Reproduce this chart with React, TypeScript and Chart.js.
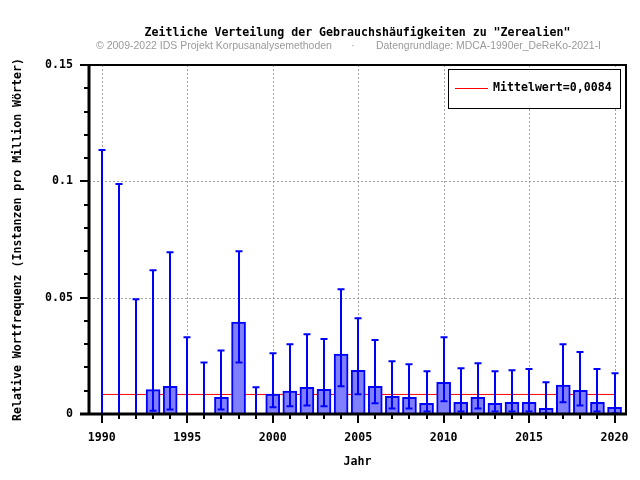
import React, { useEffect, useRef } from "react";
import { Chart, registerables } from "chart.js";

Chart.register(...registerables);

const years = [
  1990, 1991, 1992, 1993, 1994, 1995, 1996, 1997, 1998, 1999,
  2000, 2001, 2002, 2003, 2004, 2005, 2006, 2007, 2008, 2009,
  2010, 2011, 2012, 2013, 2014, 2015, 2016, 2017, 2018, 2019, 2020,
];
const relFreq: (number | null)[] = [
  null, null, null, 0.0105, 0.0119, null, null, 0.0072, 0.0395, null,
  0.0086, 0.0098, 0.0115, 0.0106, 0.0257, 0.0188, 0.0119, 0.0076, 0.0072, 0.0046,
  0.0136, 0.005, 0.0072, 0.0046, 0.005, 0.005, 0.0024, 0.0124, 0.0102, 0.005, 0.0029,
];
const errLower = [
  0, 0, 0, 0.0014, 0.0019, 0, 0, 0.0019, 0.0221, 0,
  0.0029, 0.0033, 0.0037, 0.0033, 0.0119, 0.0085, 0.0046, 0.0024, 0.0024, 0.0011,
  0.0055, 0.0011, 0.0024, 0.0011, 0.0011, 0.0011, 0.0003, 0.005, 0.0037, 0.0011, 0.0003,
];
const errUpper = [
  0.1135, 0.0989, 0.0493, 0.0618, 0.0695, 0.033, 0.0221, 0.0273, 0.07, 0.0115,
  0.0261, 0.03, 0.0343, 0.0322, 0.0536, 0.0412, 0.0318, 0.0227, 0.0214, 0.0184,
  0.033, 0.0197, 0.0218, 0.0184, 0.0188, 0.0193, 0.0136, 0.03, 0.0266, 0.0193, 0.0175,
];
const meanValue = 0.0084;
const meanRange = [1990, 2020];
const xMajorTicks = [1990, 1995, 2000, 2005, 2010, 2015, 2020];
const yMajorTicks = [0, 0.05, 0.1, 0.15];
const yMinorTicks = [
  0.01, 0.02, 0.03, 0.04, 0.06, 0.07, 0.08, 0.09, 0.11, 0.12, 0.13, 0.14,
];
const yTickLabels = ["0", "0.05", "0.1", "0.15"];

const TITLE = 'Zeitliche Verteilung der Gebrauchshäufigkeiten zu "Zerealien"';
const SUB_LEFT = "© 2009-2022 IDS Projekt Korpusanalysemethoden";
const SUB_DOT = "·";
const SUB_RIGHT = "Datengrundlage: MDCA-1990er_DeReKo-2021-I";
const LEGEND_LABEL = "Mittelwert=0,0084";
const X_TITLE = "Jahr";
const Y_TITLE = "Relative Wortfrequenz (Instanzen pro Million Wörter)";

const MONO = '"DejaVu Sans Mono", monospace';
const MONO_FONT = { family: MONO, size: 11.6, weight: "bold" as const };

const decorPlugin = {
  id: "decor",
  beforeDatasetsDraw(chart: any) {
    const { ctx, chartArea: a, scales } = chart;
    const x = scales.x;
    const y = scales.y;
    ctx.save();
    ctx.strokeStyle = "#a0a0a0";
    ctx.lineWidth = 1;
    ctx.setLineDash([2, 2]);
    for (const v of xMajorTicks) {
      const px = Math.round(x.getPixelForValue(v)) + 0.5;
      ctx.beginPath();
      ctx.moveTo(px, a.top);
      ctx.lineTo(px, a.bottom);
      ctx.stroke();
    }
    for (const v of yMajorTicks) {
      const py = Math.round(y.getPixelForValue(v)) + 0.5;
      ctx.beginPath();
      ctx.moveTo(a.left, py);
      ctx.lineTo(a.right, py);
      ctx.stroke();
    }
    ctx.restore();
  },
  afterDatasetsDraw(chart: any) {
    const { ctx, chartArea: a, scales } = chart;
    const x = scales.x;
    const y = scales.y;
    ctx.save();
    // error bars
    ctx.strokeStyle = "#0000ff";
    ctx.lineWidth = 2;
    ctx.lineCap = "butt";
    for (let i = 0; i < years.length; i++) {
      const px = Math.round(x.getPixelForValue(years[i]));
      const yl = y.getPixelForValue(errLower[i]);
      const yu = y.getPixelForValue(errUpper[i]);
      ctx.beginPath();
      ctx.moveTo(px, yl);
      ctx.lineTo(px, yu);
      ctx.moveTo(px - 3.5, yu);
      ctx.lineTo(px + 3.5, yu);
      ctx.moveTo(px - 3.5, yl);
      ctx.lineTo(px + 3.5, yl);
      ctx.stroke();
    }
    // frame
    ctx.strokeStyle = "#000";
    ctx.lineWidth = 2;
    ctx.beginPath();
    ctx.moveTo(a.left - 9, a.top);
    ctx.lineTo(a.right + 1, a.top);
    ctx.moveTo(a.right, a.top);
    ctx.lineTo(a.right, a.bottom);
    ctx.stroke();
    ctx.lineWidth = 3;
    ctx.beginPath();
    ctx.moveTo(a.left - 9, a.bottom);
    ctx.lineTo(a.right + 1, a.bottom);
    ctx.moveTo(a.left, a.top - 1);
    ctx.lineTo(a.left, a.bottom + 1);
    ctx.stroke();
    // y ticks
    ctx.lineWidth = 2;
    ctx.beginPath();
    for (const v of yMajorTicks) {
      const py = Math.round(y.getPixelForValue(v));
      ctx.moveTo(a.left - 9, py);
      ctx.lineTo(a.left, py);
    }
    for (const v of yMinorTicks) {
      const py = Math.round(y.getPixelForValue(v));
      ctx.moveTo(a.left - 5, py);
      ctx.lineTo(a.left, py);
    }
    // x ticks
    for (const v of years) {
      const px = Math.round(x.getPixelForValue(v));
      const major = xMajorTicks.includes(v);
      ctx.moveTo(px, a.bottom);
      ctx.lineTo(px, a.bottom + (major ? 9 : 5));
    }
    ctx.stroke();
    // legend
    ctx.lineWidth = 1;
    ctx.strokeStyle = "#000";
    ctx.fillStyle = "#fff";
    ctx.fillRect(448.5, 69.5, 172, 39);
    ctx.strokeRect(448.5, 69.5, 172, 39);
    ctx.strokeStyle = "#ff0000";
    ctx.beginPath();
    ctx.moveTo(455, 88.5);
    ctx.lineTo(488, 88.5);
    ctx.stroke();
    ctx.fillStyle = "#000";
    ctx.font = `bold 11.6px ${MONO}`;
    ctx.textAlign = "left";
    ctx.textBaseline = "middle";
    ctx.fillText(LEGEND_LABEL, 493, 88);
    ctx.restore();
  },
  afterDraw(chart: any) {
    const { ctx, chartArea: a } = chart;
    ctx.save();
    ctx.fillStyle = "#000";
    ctx.font = `bold 11.6px ${MONO}`;
    ctx.textAlign = "center";
    ctx.textBaseline = "middle";
    ctx.fillText(TITLE, (a.left + a.right) / 2, 33);
    ctx.fillStyle = "#9a9a9a";
    ctx.font = `10.5px "Liberation Sans", Arial, sans-serif`;
    ctx.textAlign = "left";
    ctx.fillText(SUB_LEFT, 96, 46, 236);
    ctx.textAlign = "center";
    ctx.fillText(SUB_DOT, 353, 46);
    ctx.textAlign = "left";
    ctx.fillText(SUB_RIGHT, 376, 46, 225);
    ctx.restore();
  },
};

export default function App() {
  const ref = useRef<HTMLCanvasElement | null>(null);
  useEffect(() => {
    if (!ref.current) return;
    const chart = new Chart(ref.current, {
      type: "bar",
      data: {
        datasets: [
          {
            type: "bar",
            data: years.map((yr, i) => ({ x: yr, y: relFreq[i] })) as any,
            backgroundColor: "#8080ff",
            borderColor: "#0000ff",
            borderWidth: 2,
            barThickness: 14,
            order: 1,
          },
          {
            type: "line",
            data: meanRange.map((yr) => ({ x: yr, y: meanValue })) as any,
            borderColor: "#ff0000",
            borderWidth: 1,
            pointRadius: 0,
            fill: false,
            order: 2,
          },
        ],
      },
      options: {
        responsive: false,
        animation: false,
        devicePixelRatio: 1,
        layout: { padding: { top: 65, right: 14, left: 0, bottom: 0 } },
        plugins: {
          legend: { display: false },
          tooltip: { enabled: false },
          title: { display: false },
        },
        scales: {
          x: {
            type: "linear",
            min: 1989.25,
            max: 2020.67,
            offset: false,
            grid: { display: false, drawTicks: false },
            border: { display: false },
            afterBuildTicks: (s: any) => {
              s.ticks = xMajorTicks.map((v) => ({ value: v }));
            },
            afterFit: (s: any) => {
              s.height = 66;
              s.paddingLeft = 0;
              s.paddingRight = 0;
            },
            ticks: {
              padding: 17,
              maxRotation: 0,
              autoSkip: false,
              color: "#000",
              font: MONO_FONT,
              callback: (v: any) => String(v),
            },
            title: {
              display: true,
              text: X_TITLE,
              color: "#000",
              font: MONO_FONT,
              padding: { top: 0, bottom: 11 },
            },
          },
          y: {
            type: "linear",
            min: 0,
            max: 0.15,
            grid: { display: false, drawTicks: false },
            border: { display: false },
            afterBuildTicks: (s: any) => {
              s.ticks = yMajorTicks.map((v) => ({ value: v }));
            },
            afterFit: (s: any) => {
              s.width = 89;
              s.paddingTop = 0;
              s.paddingBottom = 0;
            },
            ticks: {
              padding: 16,
              autoSkip: false,
              color: "#000",
              font: MONO_FONT,
              callback: (v: any) => yTickLabels[yMajorTicks.indexOf(v)] ?? String(v),
            },
            title: {
              display: true,
              text: Y_TITLE,
              color: "#000",
              font: MONO_FONT,
              padding: { top: 11.4, bottom: 0 },
            },
          },
        },
      },
      plugins: [decorPlugin],
    } as any);
    return () => chart.destroy();
  }, []);
  return (
    <div style={{ position: "fixed", left: 0, top: 0, width: 640, height: 480, background: "#fff" }}>
      <canvas ref={ref} width={640} height={480} style={{ display: "block" }} />
    </div>
  );
}
